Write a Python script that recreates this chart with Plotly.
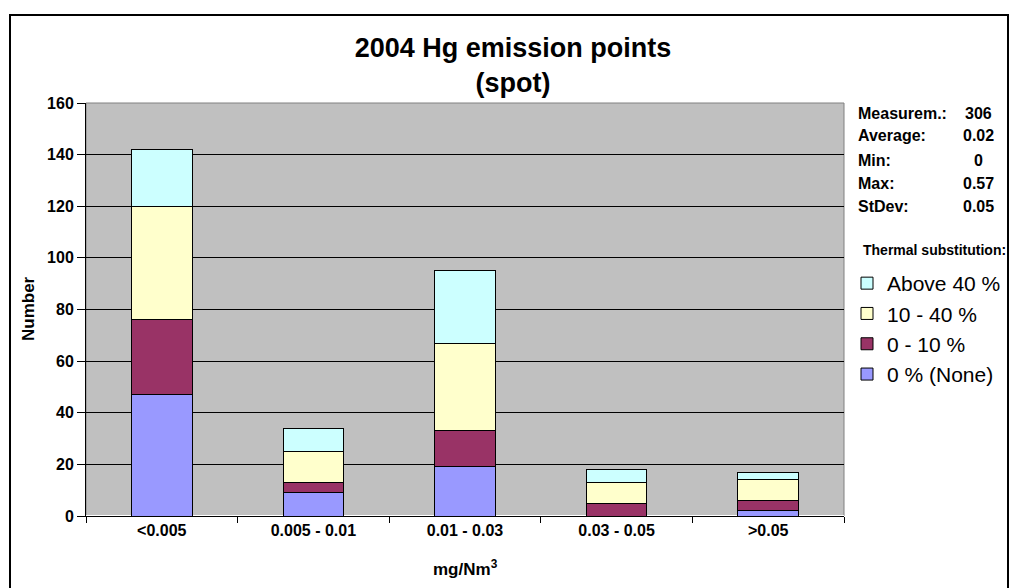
import plotly.graph_objects as go

categories = ["<0.005", "0.005 - 0.01", "0.01 - 0.03", "0.03 - 0.05", ">0.05"]
none_0 = [47, 9, 19, 0, 2]
pct_0_10 = [29, 4, 14, 5, 4]
pct_10_40 = [44, 12, 34, 8, 8]
above_40 = [22, 9, 28, 5, 3]

series = [
    ("0 % (None)", none_0, "#9999FF"),
    ("0 - 10 %", pct_0_10, "#993366"),
    ("10 - 40 %", pct_10_40, "#FFFFCC"),
    ("Above 40 %", above_40, "#CCFFFF"),
]

stat_labels = ["Measurem.:", "Average:", "Min:", "Max:", "StDev:"]
stat_values = ["306", "0.02", "0", "0.57", "0.05"]

fig = go.Figure()
for i, (name, vals, col) in enumerate(series):
    fig.add_trace(go.Bar(
        x=categories, y=vals, name=name, marker_color=col,
        marker_line=dict(color="black", width=1),
        legendgroup=str(i), legendrank=10 - i
    ))

W, H = 1011, 588
L, T = 86, 103
PR, PB = 844, 516  # plot right / bottom, pixels
pw, ph = PR - L, PB - T


def px(x):
    return (x - L) / pw


def py(y):
    return (PB - y) / ph


FONT = "Arial, Liberation Sans, sans-serif"

fig.update_layout(
    width=W, height=H, barmode="stack", bargap=0.6,
    margin=dict(l=L, r=W - PR, t=T, b=H - PB, autoexpand=False),
    paper_bgcolor="white", plot_bgcolor="#C0C0C0",
    font=dict(family=FONT, color="black"),
    title=dict(text="<b>2004 Hg emission points<br>(spot)</b>", x=513 / W, xanchor="center",
               y=1 - 57 / H, yanchor="middle", font=dict(size=27)),
    legend=dict(x=px(847), xanchor="left", y=py(263), yanchor="top",
                traceorder="grouped", tracegroupgap=0,
                font=dict(size=21), bgcolor="rgba(0,0,0,0)", itemwidth=30),
    showlegend=True,
)
fig.update_xaxes(
    showline=True, linecolor="black", ticks="outside", ticklen=6,
    tickson="boundaries", tickcolor="black",
    tickfont=dict(size=16, weight="bold"),
)
fig.update_yaxes(
    range=[0, 160], dtick=20, showline=True, linecolor="black",
    ticks="outside", ticklen=8, tickcolor="black", gridcolor="black", gridwidth=1,
    tickfont=dict(size=16, weight="bold"),
)

# axis titles
fig.add_annotation(text="<b>Number</b>", xref="paper", yref="paper", x=px(28), y=py(309),
                   xanchor="center", yanchor="middle",
                   textangle=-90, showarrow=False, font=dict(size=17))
fig.add_annotation(text="<b>mg/Nm<sup>3</sup></b>", xref="paper", yref="paper", x=px(465), y=py(568),
                   xanchor="center", yanchor="middle", showarrow=False, font=dict(size=17))

# stats block
rows_y = [113, 136, 160, 183, 206]
for lab, val, yy in zip(stat_labels, stat_values, rows_y):
    fig.add_annotation(text="<b>" + lab + "</b>", xref="paper", yref="paper",
                       x=px(856), y=py(yy), xanchor="left", yanchor="middle",
                       showarrow=False, font=dict(size=16))
    fig.add_annotation(text="<b>" + val + "</b>", xref="paper", yref="paper",
                       x=px(979), y=py(yy), xanchor="center", yanchor="middle",
                       showarrow=False, font=dict(size=16))
fig.add_annotation(text="<b>Thermal substitution:</b>", xref="paper", yref="paper",
                   x=px(861), y=py(250), xanchor="left", yanchor="middle",
                   showarrow=False, font=dict(size=14))

# plot area top/right edge (grey) and outer frame
fig.add_shape(type="rect", xref="paper", yref="paper", x0=0, x1=1, y0=0, y1=1,
              line=dict(color="#808080", width=1), layer="below")
fig.add_shape(type="rect", xref="paper", yref="paper",
              x0=px(10), x1=px(1008), y0=py(600), y1=py(15),
              line=dict(color="black", width=2), layer="below")

fig.write_html(
    "out.html", config={"displayModeBar": False},
    post_script="document.body.style.margin='0';"
                "document.body.style.overflow='hidden';"
                "document.documentElement.style.overflow='hidden';",
)
